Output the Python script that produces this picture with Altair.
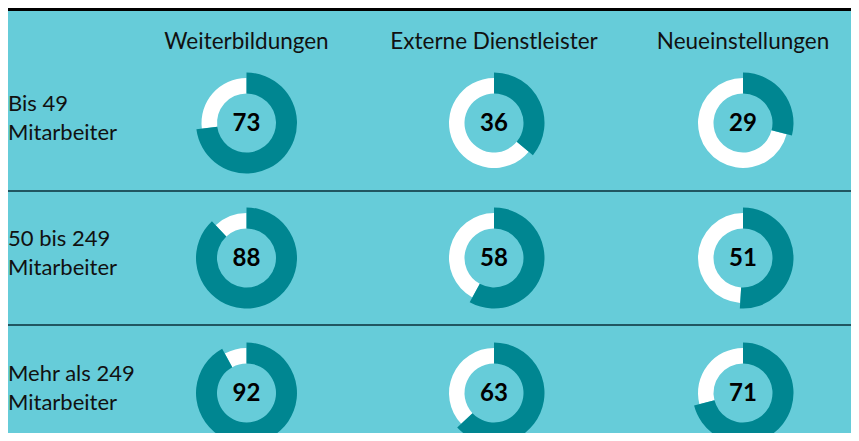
import altair as alt
import pandas as pd

columns = ["Weiterbildungen", "Externe Dienstleister", "Neueinstellungen"]
rows = [["Bis 49", "Mitarbeiter"], ["50 bis 249", "Mitarbeiter"], ["Mehr als 249", "Mitarbeiter"]]
values = [
    [73, 36, 29],
    [88, 58, 51],
    [92, 63, 71],
]

BG = "#66CCD9"
DARK = "#008691"
FONT = "Lato"

# layout (page pixel coordinates)
col_x = [246.5, 494, 743]
row_y = [123, 258, 393]

cells = []
for ri, r in enumerate(rows):
    for ci, c in enumerate(columns):
        cells.append({"row": ri, "col": c, "value": values[ri][ci],
                      "cx": col_x[ci], "cy": row_y[ri]})
cells = pd.DataFrame(cells)

heads = pd.DataFrame({"label": columns, "cx": col_x, "y": [49] * 3})
rlab = pd.DataFrame({"label": rows, "x": [8] * 3, "y": [ry - 12 for ry in row_y]})
seps = pd.DataFrame({"x": [8, 8], "x2": [860, 860], "y": [191, 325]})
topline = pd.DataFrame({"x": [8], "x2": [860], "y": [9]})

W, H = 843, 425
xs = alt.Scale(domain=[8, 8 + W], nice=False, zero=False)
ys = alt.Scale(domain=[8, 8 + H], nice=False, zero=False, reverse=True)

def X(f):
    return alt.X(f, type="quantitative", scale=xs, axis=None)

def Y(f):
    return alt.Y(f, type="quantitative", scale=ys, axis=None)

base = alt.Chart(cells)

dark = base.mark_arc(radius=50.5, radius2=29.5, color=DARK).transform_calculate(
    t0="0", t1="datum.value / 100 * 2 * PI"
).encode(x=X("cx"), y=Y("cy"),
         theta=alt.Theta("t0:Q", scale=None), theta2="t1:Q")

white = base.mark_arc(radius=45, radius2=29.5, color="white").transform_calculate(
    t0="datum.value / 100 * 2 * PI", t1="2 * PI"
).encode(x=X("cx"), y=Y("cy"),
         theta=alt.Theta("t0:Q", scale=None), theta2="t1:Q")

nums = base.mark_text(font=FONT, fontSize=24, fontWeight="bold", color="black",
                      align="center", baseline="middle", dy=1).encode(
    x=X("cx"), y=Y("cy"), text="value:Q")

hdr = alt.Chart(heads).mark_text(font=FONT, fontSize=22.5, color="#111111",
                                 align="center", baseline="alphabetic").encode(
    x=X("cx"), y=Y("y"), text="label:N")

rl = alt.Chart(rlab).mark_text(font=FONT, fontSize=22, color="#111111",
                               align="left", baseline="alphabetic", lineHeight=29).encode(
    x=X("x"), y=Y("y"), text="label")

sep = alt.Chart(seps).mark_rule(color="#0b2f38", strokeWidth=1.3).encode(
    x=X("x"), x2="x2", y=Y("y"))

top = alt.Chart(topline).mark_rule(color="black", strokeWidth=4).encode(
    x=X("x"), x2="x2", y=Y("y"))

chart = alt.layer(top, sep, white, dark, nums, hdr, rl).properties(
    width=W, height=H, padding=0, autosize=alt.AutoSizeParams(type="none"),
    background=BG
).configure_view(stroke=None, clip=False)

chart.save("out.html", embed_options={"renderer": "svg", "actions": False})
